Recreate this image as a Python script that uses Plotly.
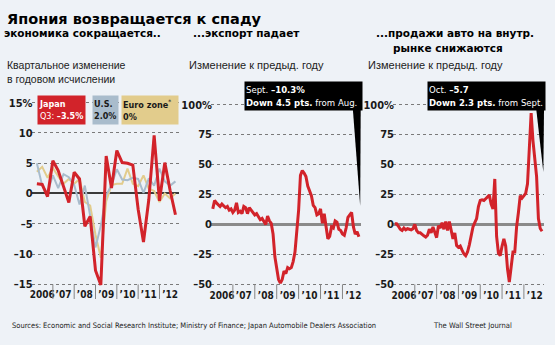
import plotly.graph_objects as go

# ---------------- data ----------------
year_labels = ["2006", "’07", "’08", "’09", "’10", "’11", "’12"]
years = [2006, 2007, 2008, 2009, 2010, 2011, 2012]

# quarterly, annualised q/q change, 2006Q1 .. 2012Q3
gdp_japan = [1.6, 1.5, -0.5, 5.4, 3.8, 1.0, -1.5, 3.5, 2.4, -5.4, -3.8, -12.7,
             -15.1, 6.2, 0.9, 7.1, 5.1, 5.0, 4.7, -2.6, -8.0, -1.0, 9.6, -1.2,
             5.1, 0.5, -3.5]
gdp_us = [5.0, 1.3, 0.1, 3.0, 0.9, 3.2, 2.7, 1.4, -1.8, 1.3, -3.7, -8.9,
          -5.3, -0.3, 1.4, 4.0, 2.3, 2.2, 2.6, 2.4, 0.1, 2.5, 1.3, 4.1,
          2.0, 1.3, 2.0]
gdp_euro = [3.6, 4.4, 2.6, 4.2, 2.8, 1.6, 2.4, 1.6, 2.4, -1.4, -2.0, -6.8,
            -10.6, -1.3, 1.4, 1.6, 1.6, 4.1, 1.6, 1.2, 3.0, 0.8, 0.4, -1.4,
            0.0, -0.8, 0.0]

# monthly, y/y change, Jan 2006 .. Sep 2012
exports = [13, 20, 18, 16, 15, 17, 15, 14, 15, 12, 13, 10,
           12, 18, 10, 11, 9, 15, 14, 9, 14, 12, 9, 8,
           9, 7, 4, 5, 3, 0, 7, 3, 1, -8, -27, -35,
           -46, -49, -46, -39, -41, -36, -37, -36, -31, -23, -6, 12,
           41, 45, 43, 40, 32, 28, 24, 16, 14, 8, 9, 13,
           1, 9, -2, -12, -10, -2, -3, 3, 2, -4, -5, -8,
           -9, -3, 6, 8, 10, -2, -8, -6, -10.3]

# monthly, y/y change, Jan 2006 .. Oct 2012
auto_sales = [0.5, 0.5, -1.5, -4, -5, -3, -4.5, -3.5, -4, -4.5, -3.5, 0,
              -5, -7, -7, -8.5, -9.5, -10.5, -9, -4, -7, -2, -6, -11,
              -1, -3, 1.5, -4, 2.5, -5, 2.5, -5, -12, -7, -17.5, -19,
              -18, -21.5, -24.5, -26, -23, -17, -8, -2, 1.5, 5, 15, 20,
              20.5, 20, 21.5, 23, 24.5, 17, 13, 38, -10, -24, -26, -18,
              -12, -18, -37, -48, -36, -23, -23, -2, 10, 24, 22, 24,
              26, 34, 62, 93, 70, 55, 40, 5, -3.4, -5.7]

gdp_ticks = [-15, -10, -5, 0, 5, 10, 15]
gdp_ticktext = ["–15", "–10", "–5", "0", "5", "10", "15%"]
pct_ticks = [-50, -25, 0, 25, 50, 75, 100]
pct_ticktext = ["–50", "–25", "0", "25", "50", "75", "100%"]

# time coordinates (points plotted at period end)
t_q = [2006 + (i + 1) / 4 for i in range(len(gdp_japan))]
t_exp = [2006 + (i + 1) / 12 for i in range(len(exports))]
t_auto = [2006 + (i + 1) / 12 for i in range(len(auto_sales))]

# ---------------- styling ----------------
W, H = 555, 345
BG = "#eef2f7"
RED = "#d2232a"
BLUE = "#a9bccc"
TAN = "#e2cc8c"
COND = "DejaVu Sans Condensed, Liberation Sans, sans-serif"
HEAVY = "DejaVu Sans, sans-serif"
DESC = "Liberation Sans, sans-serif"


def px(x):
    return x / W


def py(y):
    return 1 - y / H


fig = go.Figure()
fig.add_trace(go.Scatter(x=t_q, y=gdp_euro, mode="lines", line=dict(color=TAN, width=2),
                         xaxis="x", yaxis="y", hoverinfo="skip"))
fig.add_trace(go.Scatter(x=t_q, y=gdp_us, mode="lines", line=dict(color=BLUE, width=2),
                         xaxis="x", yaxis="y", hoverinfo="skip"))
fig.add_trace(go.Scatter(x=t_q, y=gdp_japan, mode="lines", line=dict(color=RED, width=3),
                         xaxis="x", yaxis="y", hoverinfo="skip"))
fig.add_trace(go.Scatter(x=t_exp, y=exports, mode="lines", line=dict(color=RED, width=3),
                         xaxis="x2", yaxis="y2", hoverinfo="skip"))
fig.add_trace(go.Scatter(x=t_auto, y=auto_sales, mode="lines", line=dict(color=RED, width=3),
                         xaxis="x3", yaxis="y3", hoverinfo="skip"))

ytickfont = dict(family=COND, size=11, color="#1a1a1a", weight="bold")
xtickfont = dict(family=COND, size=10, color="#1a1a1a", weight="bold")
xcommon = dict(tickvals=[y + 0.5 for y in years], ticktext=year_labels, tickangle=0,
               showgrid=False, zeroline=False, showline=False, ticks="",
               tickfont=xtickfont, fixedrange=True)
ycommon = dict(showgrid=True, griddash="dot", gridcolor="#7a7a7a", gridwidth=1,
               showline=False, ticks="", tickfont=ytickfont, fixedrange=True,
               ticklabelstandoff=-2)

# panel geometry (pixels)
p1 = dict(x0=29.65, x1=177.3, r=[2006, 2012.9], ytop=97.9, ybot=290.1, yr=[-15.5, 15.5])
p2 = dict(x0=209.7, x1=360.4, r=[2006, 2012.85], ytop=100.6, ybot=290.7, yr=[-53, 102])
p3 = dict(x0=392.4, x1=543.9, r=[2006, 2012.92], ytop=100.6, ybot=290.7, yr=[-53, 102])

layout_axes = {}
for k, p, ticks, ttext, zc, zw in [
    ("", p1, gdp_ticks, gdp_ticktext, "#3a3a3a", 1.5),
    ("2", p2, pct_ticks, pct_ticktext, "#8a8a8a", 2.5),
    ("3", p3, pct_ticks, pct_ticktext, "#8a8a8a", 2.5),
]:
    xa = dict(xcommon)
    xa.update(range=p["r"], domain=[px(p["x0"]), px(p["x1"])], anchor="y" + k)
    ya = dict(ycommon)
    ya.update(range=p["yr"], domain=[py(p["ybot"]), py(p["ytop"])], anchor="x" + k,
              tickvals=ticks, ticktext=ttext, zeroline=True, zerolinecolor=zc,
              zerolinewidth=zw)
    layout_axes["xaxis" + k] = xa
    layout_axes["yaxis" + k] = ya

shapes = []
# year separators below each panel
for k in ["", "2", "3"]:
    for yv in years[1:]:
        shapes.append(dict(type="line", xref="x" + k, yref="paper", x0=yv, x1=yv,
                           y0=py(287), y1=py(302), line=dict(color="#858585", width=1)))
# callout pointers
shapes.append(dict(type="path", xref="paper", yref="paper",
                   path=f"M {px(352)} {py(106)} L {px(360)} {py(106)} L {px(359.5)} {py(207)} Z",
                   fillcolor="black", line=dict(width=0)))
shapes.append(dict(type="path", xref="paper", yref="paper",
                   path=f"M {px(536)} {py(106)} L {px(544)} {py(106)} L {px(543.3)} {py(172)} Z",
                   fillcolor="black", line=dict(width=0)))

ann = []


def text(x, y, s, size, family, color="black", xanchor="left", yanchor="middle", **kw):
    ann.append(dict(x=px(x), y=py(y), xref="paper", yref="paper", text=s, showarrow=False,
                    xanchor=xanchor, yanchor=yanchor, align="left",
                    font=dict(size=size, family=family, color=color), **kw))


text(3, 15, "<b>Япония возвращается к спаду</b>", 14.5, HEAVY)
text(0, 30, "<b>экономика сокращается..</b>", 10.5, HEAVY)
text(190, 30, "<b>...экспорт падает</b>", 10.5, HEAVY)
text(373, 30, "<b>...продажи авто на внутр.</b>", 10.5, HEAVY)
text(390, 45, "<b>рынке снижаются</b>", 10.5, HEAVY)
text(3, 62, "Квартальное изменение", 10.5, DESC, "#222")
text(3, 77, "в годовом исчислении", 10.5, DESC, "#222")
text(186, 62, "Изменение к предыд. году", 11, DESC, "#222")
text(365, 62, "Изменение к предыд. году", 11, DESC, "#222")

# legend boxes (panel 1)
text(35, 93, "<b>Japan</b><br>Q3: <b>–3.5%</b>", 9, COND, "white", yanchor="top",
     bgcolor=RED, width=45, height=26, borderpad=1)
text(90, 93, "<b>U.S.</b><br><b>2.0%</b>", 9, COND, "#1a1a1a", yanchor="top",
     bgcolor=BLUE, width=23, height=26, borderpad=1)
text(119, 93, "<b>Euro zone</b><sup>*</sup><br><b>0%</b>", 9, COND, "#1a1a1a",
     yanchor="top", bgcolor=TAN, width=54, height=26, borderpad=1)

# callouts
text(243, 79, "Sept. <b>–10.3%</b><br><b>Down 4.5 pts.</b> from Aug.", 9.5, COND, "white",
     yanchor="top", bgcolor="black", width=115, height=26, borderpad=1)
text(427, 79, "Oct. <b>–5.7</b><br><b>Down 2.3 pts.</b> from Sept.", 9.5, COND, "white",
     yanchor="top", bgcolor="black", width=115, height=26, borderpad=1)

# footer
text(8, 329, "Sources: Economic and Social Research Institute; Ministry of Finance; "
             "Japan Automobile Dealers Association", 7.5, COND, "#222")
text(431, 329, "The Wall Street Journal", 7.6, COND, "#222")

fig.update_layout(width=W, height=H, autosize=False, margin=dict(l=0, r=0, t=0, b=0),
                  paper_bgcolor=BG, plot_bgcolor=BG, showlegend=False,
                  shapes=shapes, annotations=ann, **layout_axes)

fig.write_html("out.html", config={"displayModeBar": False})
